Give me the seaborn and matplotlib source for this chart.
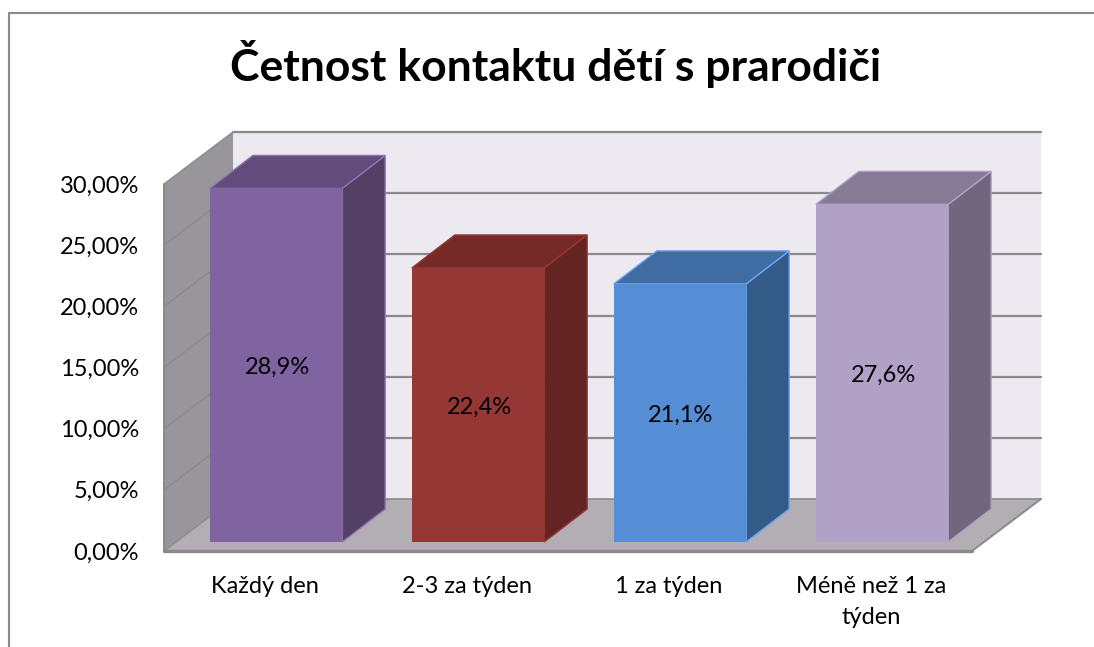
import matplotlib
matplotlib.use("Agg")
import matplotlib.pyplot as plt
from matplotlib.lines import Line2D
from matplotlib.patches import Polygon
from matplotlib.transforms import Affine2D
import pandas as pd
import seaborn as sns

# data
categories = ["Každý den", "2-3 za týden", "1 za týden", "Méně než 1 za\ntýden"]
values = [28.9, 22.4, 21.1, 27.6]
value_labels = ["28,9%", "22,4%", "21,1%", "27,6%"]
y_ticks = [0, 5, 10, 15, 20, 25, 30]
y_tick_labels = ["0,00%", "5,00%", "10,00%", "15,00%", "20,00%", "25,00%", "30,00%"]
title = "Četnost kontaktu dětí s prarodiči"

# colours: front, side, top
front_colors = ["#8064a2", "#953735", "#558ed5", "#b2a1c7"]
side_colors = ["#534064", "#632423", "#345a88", "#72667e"]
top_colors = ["#634c7c", "#752a28", "#3f6ca3", "#877a96"]
edge_colors = ["#8f73b3", "#953735", "#6aa5ee", "#b2a1c7"]

W, H = 1094, 647
plt.rcParams["figure.dpi"] = 100
sns.set_theme(style="white")
plt.rcParams["font.family"] = ["Lato", "DejaVu Sans"]

df = pd.DataFrame({"cat": categories, "value": values})

fig = plt.figure(figsize=(W / 100, H / 100), dpi=100, facecolor="white")
ax = fig.add_axes([164 / W, (H - 551) / H, 808 / W, 367 / H])
ax.patch.set_visible(False)
for s in ax.spines.values():
    s.set_visible(False)


def shifted(dx, dy):
    # data coords pushed back in depth by some pixels
    return ax.transData + Affine2D().translate(dx, dy)


def face(points, color, z, edge="none", lw=0.0):
    ax.add_patch(Polygon(points, closed=True, facecolor=color, edgecolor=edge, lw=lw,
                         transform=ax.transData, clip_on=False, zorder=z))


sns.barplot(data=df, x="cat", y="value", hue="cat", palette=front_colors, saturation=1,
            width=0.655, legend=False, ax=ax, zorder=5, linewidth=0)
bars = [p for p in ax.patches if p.get_height() > 0]
ax.set_xlim(-0.5, 3.5)
ax.set_ylim(0, 30)

# depth of the box and of the bars, pixels
box_dx, box_dy = 69, 52
bar_dx, bar_dy = 11, 9
depth_dx, depth_dy = 43, 33


def px(x, y, dx, dy):
    # data point moved by a pixel offset, back in data coords
    xd, yd = ax.transData.transform((x, y))
    return ax.transData.inverted().transform((xd + dx, yd + dy))


x0, x1 = ax.get_xlim()
y0, y1 = ax.get_ylim()

# back wall, left wall, floor
face([px(x0, y0, box_dx, box_dy), px(x1, y0, box_dx, box_dy), px(x1, y1, box_dx, box_dy),
      px(x0, y1, box_dx, box_dy)], "#ece9f1", 1)
face([(x0, y0), px(x0, y0, box_dx, box_dy), px(x0, y1, box_dx, box_dy), (x0, y1)], "#98969a", 1)
face([(x0, y0), (x1, y0), px(x1, y0, box_dx, box_dy), px(x0, y0, box_dx, box_dy)], "#b3aeb3", 1.5)

grid = "#8a8a8a"
for t in y_ticks[1:]:
    ax.plot(*zip(px(x0, t, box_dx, box_dy), px(x1, t, box_dx, box_dy)), color=grid, lw=1.6,
            clip_on=False, zorder=2)
    ax.plot(*zip((x0, t), px(x0, t, box_dx, box_dy)), color=grid, lw=1.0, clip_on=False, zorder=2)
ax.plot(*zip(px(x0, 0, box_dx, box_dy), px(x1, 0, box_dx, box_dy)), color=grid, lw=1.2, clip_on=False, zorder=2)
ax.plot(*zip((x1, 0), px(x1, 0, box_dx, box_dy)), color=grid, lw=1.4, clip_on=False, zorder=2)
ax.plot(*zip((x0, 0), px(x0, 0, box_dx, box_dy)), color=grid, lw=1.0, clip_on=False, zorder=2)
ax.plot([x0, x1], [0, 0], color="#8a8a8a", lw=2.4, clip_on=False, zorder=2)
ax.plot([x0, x0], [0, 30], color="#8a8a8a", lw=1.4, clip_on=False, zorder=2)

# bars get pushed off the front plane, then side and top faces built from each bar
for k, bar in enumerate(bars):
    bx, bw, bh = bar.get_x(), bar.get_width(), bar.get_height()
    bar.set_transform(shifted(bar_dx, bar_dy))
    bar.set_clip_on(False)
    b = px(bx + bw, 0, bar_dx, bar_dy)
    c = px(bx + bw, bh, bar_dx, bar_dy)
    d = px(bx, bh, bar_dx, bar_dy)
    b2 = px(bx + bw, 0, bar_dx + depth_dx, bar_dy + depth_dy)
    c2 = px(bx + bw, bh, bar_dx + depth_dx, bar_dy + depth_dy)
    d2 = px(bx, bh, bar_dx + depth_dx, bar_dy + depth_dy)
    face([b, b2, c2, c], side_colors[k], 4, edge=edge_colors[k], lw=1.0)
    face([d, c, c2, d2], top_colors[k], 4, edge=edge_colors[k], lw=1.0)
    ax.text(bx + bw / 2, bh / 2, value_labels[k], transform=shifted(bar_dx + 1, bar_dy - 2),
            ha="center", va="center", fontsize=17, color="black", zorder=6)

ax.set_xlabel("")
ax.set_ylabel("")
ax.set_yticks(y_ticks, y_tick_labels, fontsize=17, color="black")
ax.set_xticks(range(4), categories, fontsize=17, color="black", linespacing=1.6)
ax.tick_params(axis="y", length=0, pad=18)
ax.tick_params(axis="x", length=0, pad=18)

fig.text(556 / W, 1 - 64 / H, title, ha="center", va="center", fontsize=32, fontweight="bold", color="black")

# chart border, only top and left fall inside the picture
fig.add_artist(Line2D([8.5 / W, 8.5 / W, 1], [0, 1 - 12.5 / H, 1 - 12.5 / H], color="#8a8a8a", lw=1.5,
                      transform=fig.transFigure))

fig.savefig("out.png", dpi=100)
